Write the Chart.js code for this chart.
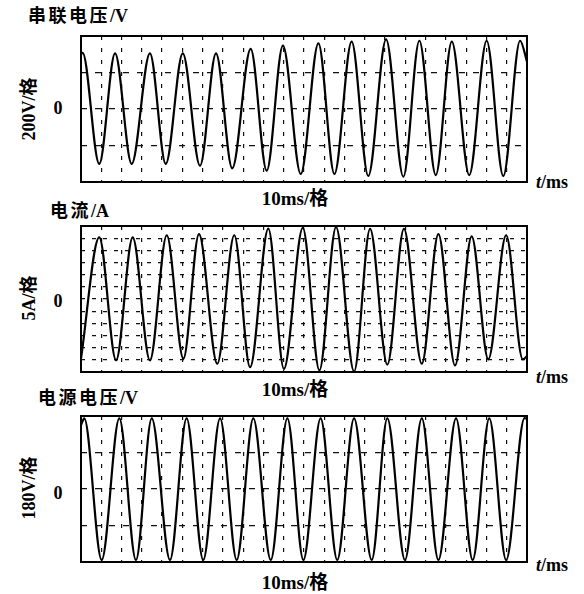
<!DOCTYPE html>
<html>
<head>
<meta charset="utf-8">
<script src="https://cdn.jsdelivr.net/npm/chart.js@4/dist/chart.umd.min.js"></script>
<style>
  body { margin: 0; background: #fff; }
  #page { position: relative; width: 584px; height: 594px; background: #fff; overflow: hidden; }
  .lbl { position: absolute; font-family: "Liberation Serif", "Noto Sans CJK SC", serif; font-weight: bold; font-size: 18px; color: #000; white-space: nowrap; line-height: 1; }
  .mid { transform: translate(-50%, -50%); }
  .left { transform: translateY(-50%); }
  .rot { transform: translate(-50%, -50%) rotate(-90deg); }
  .cjk { font-family: "Noto Sans CJK SC", sans-serif; }
  .sp { letter-spacing: 2.5px; }
  .wrap { position: absolute; left: 77px; width: 454px; height: 154px; }
</style>
</head>
<body>
<div id="page">
  <div class="lbl left" style="left:28px; top:15px;"><span class="cjk sp">串联电压</span>/V</div>
  <div class="lbl rot" style="left:28px; top:109px;">200V/<span class="cjk">格</span></div>
  <div class="lbl mid" style="left:58px; top:108px;">0</div>
  <div class="lbl mid" style="left:295px; top:197px; font-size:19px;">10ms/<span class="cjk">格</span></div>
  <div class="lbl left" style="left:536px; top:182px;"><i>t</i>/ms</div>
  <div class="wrap" style="top:32px;"><canvas id="c1" width="454" height="154"></canvas></div>

  <div class="lbl left" style="left:50px; top:210px;"><span class="cjk sp">电流</span>/A</div>
  <div class="lbl rot" style="left:28px; top:298px;">5A/<span class="cjk">格</span></div>
  <div class="lbl mid" style="left:58px; top:301px;">0</div>
  <div class="lbl mid" style="left:295px; top:388px; font-size:19px;">10ms/<span class="cjk">格</span></div>
  <div class="lbl left" style="left:536px; top:377px;"><i>t</i>/ms</div>
  <div class="wrap" style="top:222px;"><canvas id="c2" width="454" height="154"></canvas></div>

  <div class="lbl left" style="left:38px; top:397px;"><span class="cjk sp">电源电压</span>/V</div>
  <div class="lbl rot" style="left:28px; top:488px;">180V/<span class="cjk">格</span></div>
  <div class="lbl mid" style="left:58px; top:493px;">0</div>
  <div class="lbl mid" style="left:295px; top:581px; font-size:19px;">10ms/<span class="cjk">格</span></div>
  <div class="lbl left" style="left:536px; top:565px;"><i>t</i>/ms</div>
  <div class="wrap" style="top:412px;"><canvas id="c3" width="454" height="154"></canvas></div>
</div>
<script>
// time axis: 22 divisions of 10 ms
const tMin = 0, tMax = 220, tStep = 10;

// series voltage (V), peaks and troughs
const t1 = [0, 0.8, 9.0, 16.8, 25.0, 34.0, 41.8, 50.2, 58.7, 66.6, 74.6, 83.7, 91.6, 99.6, 108.4, 117.1, 125.0, 133.5, 141.7, 150.5, 159.0, 166.9, 175.0, 182.9, 191.5, 200.1, 208.3, 216.6, 220];
const v1 = [300, 308, -301, 305, -301, 305, -301, 305, -311, 305, -325, 329, -338, 347, -356, 360, -356, 369, -367, 382, -371, 374, -362, 369, -362, 374, -367, 374, 260];

// current (A)
const t2 = [0, 9.0, 17.3, 25.5, 34.0, 42.3, 50.5, 58.2, 67.2, 75.6, 83.4, 92.4, 100.1, 109.4, 117.6, 125.8, 134.7, 142.6, 151.1, 159.3, 168.1, 176.3, 184.5, 192.7, 200.9, 209.7, 217.9, 220];
const v2 = [-24.5, 25.3, -25.2, 25.3, -25.2, 26.2, -24.5, 26.7, -26.6, 26.2, -28.0, 28.9, -28.7, 29.2, -29.3, 29.5, -29.8, 28.8, -27.0, 28.8, -26.6, 26.7, -27.3, 25.7, -24.8, 26.2, -24.8, -23.5];

// source voltage (V)
const t3 = [0, 1.6, 10.2, 18.9, 27.1, 34.9, 43.9, 52.1, 60.3, 68.6, 76.8, 85.0, 93.6, 101.8, 109.7, 118.2, 126.4, 134.7, 143.4, 151.1, 159.8, 168.1, 176.3, 185.0, 193.2, 201.4, 209.7, 218.8, 220];
const v3 = [315, 348, -350, 348, -350, 348, -350, 348, -350, 348, -350, 348, -350, 348, -350, 348, -350, 348, -350, 348, -350, 348, -350, 348, -350, 348, -350, 350, 345];

// y ranges: [min, max, step per division]
const yRange1 = [-400, 400, 200];
const yRange2 = [-30, 30, 5];
const yRange3 = [-360, 360, 180];

// frame round the plot area
const boxPlugin = {
    id: 'box',
    afterDraw(chart) {
        const {ctx, chartArea: a} = chart;
        ctx.save();
        ctx.lineWidth = 2;
        ctx.strokeStyle = '#000';
        ctx.strokeRect(a.left, a.top, a.right - a.left, a.bottom - a.top);
        ctx.restore();
    }
};

makeScope = (id, ts, vs, yr, yDash) => {
    const ctx = document.getElementById(id).getContext('2d');
    return new Chart(ctx, {
        type: 'line',
        data: {
            datasets: [{
                data: ts.map((t, i) => ({x: t, y: vs[i]})),
                borderColor: '#000',
                borderWidth: 2.2,
                pointRadius: 0,
                cubicInterpolationMode: 'monotone',
                fill: false
            }]
        },
        options: {
            responsive: false,
            animation: false,
            devicePixelRatio: 1,
            layout: { padding: 4 },
            plugins: { legend: { display: false }, tooltip: { enabled: false } },
            scales: {
                x: {
                    type: 'linear', min: tMin, max: tMax,
                    ticks: { display: false, stepSize: tStep },
                    grid: { color: '#111', lineWidth: 1.2, drawTicks: false },
                    border: { display: false, dash: [4, 8] }
                },
                y: {
                    min: yr[0], max: yr[1],
                    ticks: { display: false, stepSize: yr[2] },
                    grid: { color: '#111', lineWidth: 1.2, drawTicks: false },
                    border: { display: false, dash: yDash }
                }
            }
        },
        plugins: [boxPlugin]
    });
}

makeScope('c1', t1, v1, yRange1, [6, 8]);
makeScope('c2', t2, v2, yRange2, [4, 7]);
makeScope('c3', t3, v3, yRange3, [6, 8]);
</script>
</body>
</html>
